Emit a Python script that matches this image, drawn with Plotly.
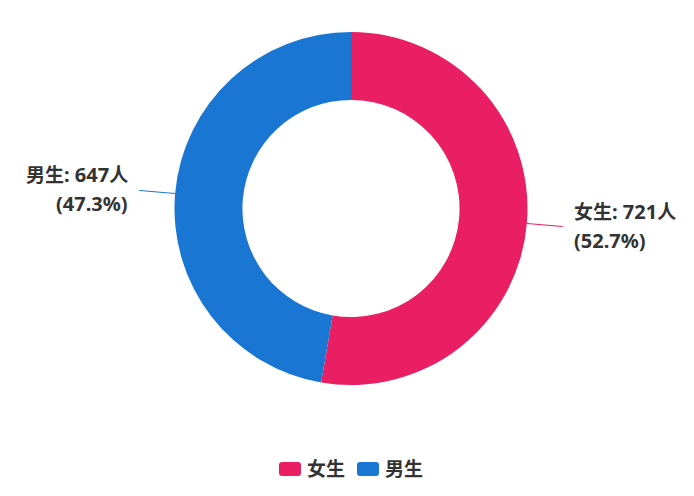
import math
import plotly.graph_objects as go

labels = ["女生", "男生"]
values = [721, 647]
colors = ["#E91E63", "#1976D2"]

# page offset (browser body margin)
OFF = 8
W, H = 694, 496
ML, MR, MT, MB = 0, 8, 24, 119
pw, ph = W - ML - MR, H - MT - MB
R = min(pw, ph) / 2.0
hole = 0.615
text_color = "#333333"
font_family = "Noto Sans, Noto Sans CJK SC, sans-serif"
LAT = 20
CJK = 19


def cjk(s):
    return f'<span style="font-size:{CJK}px">{s}</span>'


fig = go.Figure(go.Pie(
    labels=labels, values=values, hole=hole, sort=False,
    direction="clockwise", rotation=0,
    marker=dict(colors=colors, line=dict(width=0)),
    textinfo="none", hoverinfo="label+value+percent",
    showlegend=False,
))


def to_paper(px, py):
    # px, py are figure pixel coords
    return (px - ML) / pw, 1 - (py - MT) / ph


cx, cy = ML + pw / 2.0, MT + ph / 2.0
total = sum(values)
start = 0.0
shapes, annotations = [], []
line_len = 36
gap = 9
half_sp = 14.5
for lab, v, c in zip(labels, values, colors):
    frac = v / total
    mid = (start + frac / 2) * 2 * math.pi
    start += frac
    sx, sy = math.sin(mid), -math.cos(mid)
    x0, y0 = cx + R * sx, cy + R * sy
    x1, y1 = cx + (R + line_len) * sx, cy + (R + line_len) * sy
    p0 = to_paper(x0, y0)
    p1 = to_paper(x1, y1)
    shapes.append(dict(type="line", xref="paper", yref="paper",
                       x0=p0[0], y0=p0[1], x1=p1[0], y1=p1[1],
                       line=dict(color=c, width=1)))
    right = sx >= 0
    tx = x1 + gap if right else x1 - gap
    lines = [f"<b>{cjk(lab)}: {v}{cjk('人')}</b>", f"<b>({frac*100:.1f}%)</b>"]
    for k, t in enumerate(lines):
        ty = y1 + (-half_sp if k == 0 else half_sp) - 1
        pt = to_paper(tx, ty)
        annotations.append(dict(
            xref="paper", yref="paper", x=pt[0], y=pt[1],
            xanchor="left" if right else "right", yanchor="middle",
            text=t, showarrow=False,
            font=dict(size=LAT, color=text_color, family=font_family),
        ))

# custom legend (page coords minus offset)
leg_y = 469 - OFF
item_x = [279 - OFF, 357 - OFF]


def P(px, py):
    a, b = to_paper(px, py)
    return f"{a:.5f},{b:.5f}"


for lab, c, lx in zip(labels, colors, item_x):
    x0, x1 = lx, lx + 22
    y0, y1 = leg_y - 7, leg_y + 7
    r = 3
    path = (f"M{P(x0+r,y0)} L{P(x1-r,y0)} Q{P(x1,y0)} {P(x1,y0+r)} "
            f"L{P(x1,y1-r)} Q{P(x1,y1)} {P(x1-r,y1)} L{P(x0+r,y1)} "
            f"Q{P(x0,y1)} {P(x0,y1-r)} L{P(x0,y0+r)} Q{P(x0,y0)} {P(x0+r,y0)} Z")
    shapes.append(dict(type="path", xref="paper", yref="paper", path=path,
                       fillcolor=c, line=dict(width=0), layer="above"))
    pt = to_paper(x1 + 4, leg_y)
    annotations.append(dict(xref="paper", yref="paper", x=pt[0], y=pt[1],
                            xanchor="left", yanchor="middle", showarrow=False,
                            text=f"<b>{lab}</b>",
                            font=dict(size=19, color=text_color, family=font_family)))

fig.update_layout(
    width=W, height=H,
    margin=dict(l=ML, r=MR, t=MT, b=MB, pad=0),
    paper_bgcolor="white", plot_bgcolor="white",
    shapes=shapes, annotations=annotations,
    showlegend=False,
)
fig.write_html("out.html")
